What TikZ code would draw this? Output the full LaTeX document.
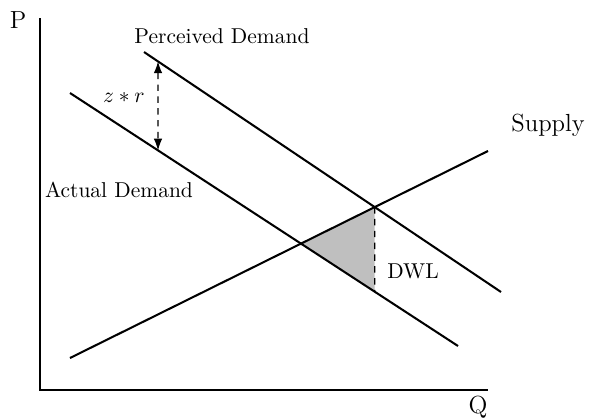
\documentclass[tikz,border=0pt]{standalone}
\usetikzlibrary{arrows.meta,calc}
\begin{document}
\begin{tikzpicture}[x=0.465pt,y=-0.465pt,
  curve/.style={line width=0.95pt},
  axis/.style={line width=1.15pt},
  gap/.style={dashed,line width=0.5pt,dash pattern=on 3pt off 2.5pt},
  lbl/.style={inner sep=0pt,font=\fontsize{10}{12}\selectfont},
  biglbl/.style={inner sep=0pt,font=\fontsize{11.5}{14}\selectfont}]
\useasboundingbox (0,0) rectangle (590,417);
% endpoints
\coordinate (pd1) at (144,52);
\coordinate (pd2) at (501,292);
\coordinate (ad1) at (70,93);
\coordinate (ad2) at (458,346);
\coordinate (s1) at (70,358);
\coordinate (s2) at (488,151);
\coordinate (o) at (40,390);
\coordinate (ytop) at (40,18);
\coordinate (xend) at (488,390);
% intersections
\coordinate (E1) at (intersection of ad1--ad2 and s1--s2);
\coordinate (E2) at (intersection of pd1--pd2 and s1--s2);
\coordinate (E2d) at ($(E2)+(0,100)$);
\coordinate (E3) at (intersection of ad1--ad2 and E2--E2d);
\coordinate (at) at (intersection of pd1--pd2 and {158,0}--{158,400});
\coordinate (ab) at (intersection of ad1--ad2 and {158,0}--{158,400});
% DWL
\fill[black!25] (E1) -- (E2) -- (E3) -- cycle;
\draw[gap] (E2) -- (E3);
% axes
\draw[axis] (ytop) -- (o) -- (xend);
% curves
\draw[curve] (pd1) -- (pd2);
\draw[curve] (ad1) -- (ad2);
\draw[curve] (s1) -- (s2);
% arrow
\draw[gap,{Latex[length=5.5pt,width=4pt]}-{Latex[length=5.5pt,width=4pt]}] (at) -- (ab);
% labels
\node[biglbl] (P) at (18,20) {P};
\node[biglbl] (Q) at (478,407) {Q};
\node[lbl] (pdl) at (222,36) {Perceived Demand};
\node[lbl] (adl) at (119,190) {Actual Demand};
\node[biglbl] (sl) at (548,125) {Supply};
\node[lbl] (zr) at (124,97) {$z*r$};
\node[lbl] (dwl) at (413,271) {DWL};
\end{tikzpicture}
\end{document}
